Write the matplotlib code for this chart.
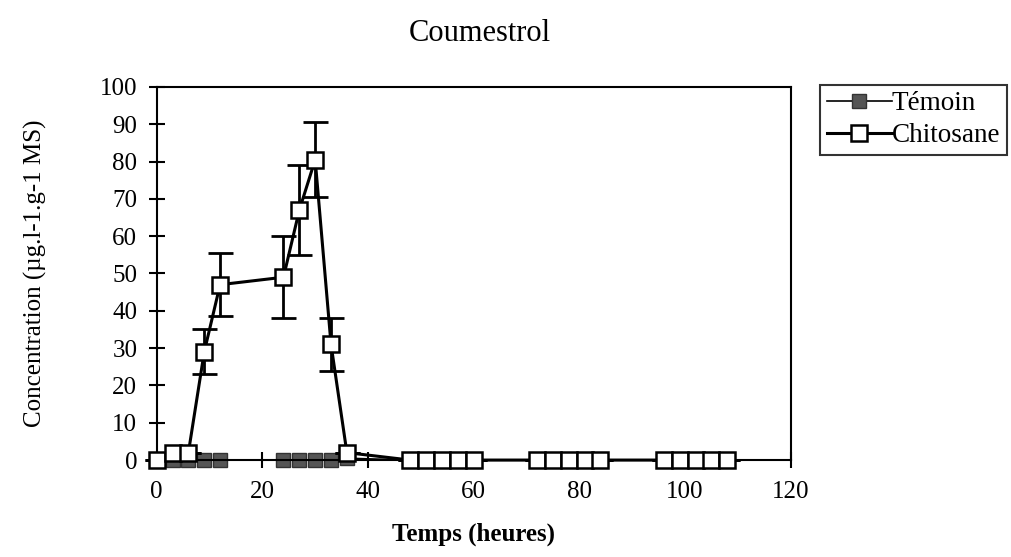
import matplotlib.pyplot as plt

plt.rcParams['font.family'] = ['Liberation Serif', 'DejaVu Serif']

# Data
temps = [0, 3, 6, 9, 12, 24, 27, 30, 33, 36,
         48, 51, 54, 57, 60, 72, 75, 78, 81, 84, 96, 99, 102, 105, 108]
temoin = [0, 0, 0, 0, 0, 0, 0, 0, 0, 0.5,
          0, 0, 0, 0, 0, 0, 0, 0, 0, 0, 0, 0, 0, 0, 0]
chitosane = [0, 2, 2, 29, 47, 49, 67, 80.5, 31, 2,
             0, 0, 0, 0, 0, 0, 0, 0, 0, 0, 0, 0, 0, 0, 0]
chitosane_err = [0, 0, 0, 6, 8.5, 11, 12, 10, 7, 0,
                 0, 0, 0, 0, 0, 0, 0, 0, 0, 0, 0, 0, 0, 0, 0]

fig = plt.figure(figsize=(10.11, 5.57), dpi=100)
ax = fig.add_axes([0.155, 0.174, 0.627, 0.67])

ax.plot(temps, temoin, color='black', lw=1.2, marker='s', markersize=10,
        markerfacecolor='#555555', markeredgecolor='#333333', label='Témoin', zorder=2)
ax.errorbar(temps, chitosane, yerr=chitosane_err, fmt='none', ecolor='black',
            elinewidth=2, capsize=9, capthick=2, zorder=3)
ax.plot(temps, chitosane, color='black', lw=2.2, marker='s', markersize=12,
        markerfacecolor='white', markeredgecolor='black', markeredgewidth=1.8,
        label='Chitosane', zorder=4)

ax.set_xlim(0, 120)
ax.set_ylim(0, 100)
ax.set_xticks(range(0, 121, 20))
ax.set_yticks(range(0, 101, 10))
ax.tick_params(direction='inout', length=12, width=1.5, labelsize=18, pad=8)
ax.tick_params(axis='x', pad=9)
for s in ax.spines.values():
    s.set_linewidth(1.5)
for art in ax.lines:
    art.set_clip_on(False)

ax.set_xlabel('Temps (heures)', fontsize=18, fontweight='bold', labelpad=14)
ax.set_ylabel('Concentration (µg.l-1.g-1 MS)', fontsize=18, labelpad=38)
fig.text(0.475, 0.94, 'Coumestrol', fontsize=22, ha='center', va='center')

leg = ax.legend(loc='upper right', bbox_to_anchor=(0.996, 0.848),
                bbox_transform=fig.transFigure, fontsize=19.5, frameon=True,
                fancybox=False, edgecolor='black', handlelength=2.4,
                handletextpad=0.0, borderpad=0.25, labelspacing=0.25,
                borderaxespad=0)
leg.get_frame().set_linewidth(1.5)

fig.savefig('out.png', dpi=100)
